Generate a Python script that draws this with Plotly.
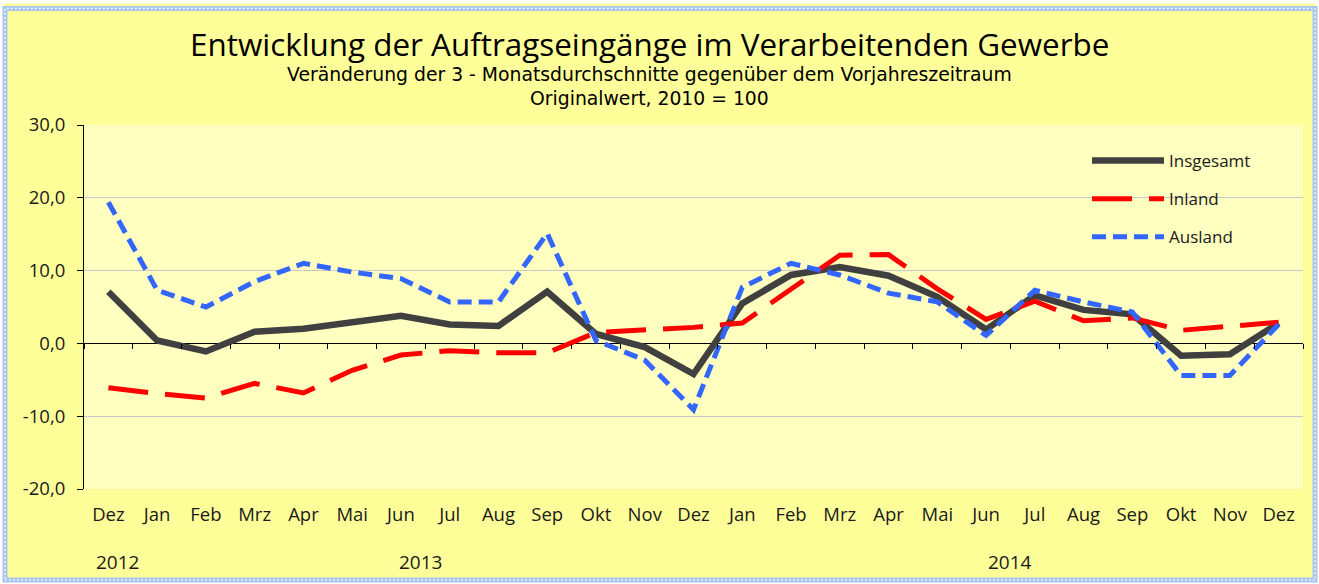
import plotly.graph_objects as go

# ---------------- data ----------------
months = ["Dez", "Jan", "Feb", "Mrz", "Apr", "Mai", "Jun", "Jul", "Aug", "Sep", "Okt", "Nov",
          "Dez", "Jan", "Feb", "Mrz", "Apr", "Mai", "Jun", "Jul", "Aug", "Sep", "Okt", "Nov", "Dez"]
insgesamt = [7.1, 0.4, -1.1, 1.6, 2.0, 2.9, 3.8, 2.6, 2.4, 7.1, 1.3, -0.5,
             -4.2, 5.5, 9.4, 10.5, 9.3, 6.4, 1.9, 6.6, 4.6, 4.0, -1.7, -1.5, 2.8]
inland = [-6.1, -6.9, -7.5, -5.5, -6.8, -3.7, -1.6, -1.0, -1.3, -1.3, 1.5, 1.9,
          2.2, 2.8, 7.4, 12.1, 12.2, 7.5, 3.3, 5.8, 3.1, 3.5, 1.8, 2.3, 2.9]
ausland = [19.4, 7.3, 5.0, 8.5, 11.0, 9.8, 8.9, 5.7, 5.7, 15.1, 0.4, -2.3,
           -9.1, 7.7, 11.0, 9.4, 6.9, 5.7, 1.1, 7.3, 5.7, 4.3, -4.4, -4.4, 2.6]
y_tickvals = [-20, -10, 0, 10, 20, 30]
y_ticktext = ["-20,0", "-10,0", "0,0", "10,0", "20,0", "30,0"]
years = ["2012", "2013", "2014"]
year_pos = [0.18, 6.4, 18.5]

title = "Entwicklung der Auftragseingänge im Verarbeitenden Gewerbe"
sub1 = "Veränderung der 3 - Monatsdurchschnitte gegenüber dem Vorjahreszeitraum"
sub2 = "Originalwert, 2010 = 100"

# ---------------- layout geometry ----------------
W, H = 1319, 584
ML, MR, MT, MB = 84, 16, 125, 95
PW, PH = W - ML - MR, H - MT - MB
FONT = "Open Sans"
SUBFONT = "DejaVu Sans"

def px_x(px):
    return (px - ML) / PW

def px_y(py):
    return (H - MB - py) / PH

x = list(range(len(months)))

fig = go.Figure()
fig.add_trace(go.Scatter(x=x, y=insgesamt, name="Insgesamt", mode="lines",
                         line=dict(color="#404040", width=6.5), legendgroup="a"))
fig.add_trace(go.Scatter(x=x, y=inland, name="Inland", mode="lines",
                         line=dict(color="#FF0000", width=5, dash="40px,17px"), legendgroup="b"))
fig.add_trace(go.Scatter(x=x, y=ausland, name="Ausland", mode="lines",
                         line=dict(color="#3366FF", width=5, dash="14px,7px"), legendgroup="c"))
# invisible trace to activate tick axis on zero line
fig.add_trace(go.Scatter(x=x, y=insgesamt, xaxis="x2", mode="lines", showlegend=False,
                         line=dict(color="rgba(0,0,0,0)"), hoverinfo="skip"))

annotations = [
    dict(text=title, x=px_x(649), y=px_y(44), xref="paper", yref="paper", showarrow=False,
         font=dict(size=31.4, color="#000000", family=FONT), xanchor="center", yanchor="middle"),
    dict(text=sub1 + "<br>" + sub2, x=px_x(649), y=px_y(87), xref="paper", yref="paper",
         showarrow=False, align="center",
         font=dict(size=18.8, color="#000000", family=SUBFONT), xanchor="center", yanchor="middle"),
]
for yr, pos in zip(years, year_pos):
    annotations.append(dict(text=yr, x=pos, y=px_y(562), xref="x", yref="paper", showarrow=False,
                            font=dict(size=19, color="#1a1a1a", family=FONT),
                            xanchor="center", yanchor="middle"))

shapes = [
    # white outer margin
    dict(type="rect", xref="paper", yref="paper", x0=px_x(0), x1=px_x(W), y0=px_y(H), y1=px_y(0),
         line=dict(color="white", width=7), layer="above"),
    # blue dotted frame
    dict(type="rect", xref="paper", yref="paper", x0=px_x(5), x1=px_x(1315), y0=px_y(580), y1=px_y(8.5),
         line=dict(color="#A9C6EE", width=5), layer="above"),
    dict(type="rect", xref="paper", yref="paper", x0=px_x(5), x1=px_x(1315), y0=px_y(580), y1=px_y(8.5),
         line=dict(color="white", width=1.5, dash="1.5px,2.5px"), layer="above"),
]

fig.update_layout(
    width=W, height=H,
    margin=dict(l=ML, r=MR, t=MT, b=MB, pad=0),
    paper_bgcolor="#FFFF99",
    plot_bgcolor="#FFFFC0",
    font=dict(family=FONT, color="#1a1a1a"),
    showlegend=True,
    legend=dict(x=px_x(1087), y=px_y(143), xanchor="left", yanchor="top",
                bgcolor="rgba(0,0,0,0)", font=dict(size=17, family=FONT, color="#1a1a1a"),
                itemwidth=72, tracegroupgap=13, traceorder="grouped"),
    xaxis=dict(range=[-0.5, len(months) - 0.5], tickvals=x, ticktext=months,
               showgrid=False, zeroline=False, showline=False, ticks="",
               tickfont=dict(size=18.5, family=FONT, color="#1a1a1a"), ticklabelstandoff=12),
    xaxis2=dict(range=[-0.5, len(months) - 0.5], overlaying="x", anchor="free",
                position=(0 - y_tickvals[0]) / (y_tickvals[-1] - y_tickvals[0]),
                tickvals=[i - 0.5 for i in range(len(months) + 1)],
                showticklabels=False, ticks="outside", ticklen=5, tickcolor="#000000",
                showgrid=False, zeroline=False, showline=False),
    yaxis=dict(range=[y_tickvals[0], y_tickvals[-1]], tickvals=y_tickvals, ticktext=y_ticktext,
               showgrid=True, gridcolor="#C8C8C8", gridwidth=1.3,
               zeroline=True, zerolinecolor="#000000", zerolinewidth=1,
               showline=True, linecolor="#000000", linewidth=1,
               ticks="outside", ticklen=6, tickcolor="#000000",
               tickfont=dict(size=18.5, family=FONT, color="#1a1a1a"), ticklabelstandoff=8),
    annotations=annotations,
    shapes=shapes,
)

fig.write_html("out.html", config={"displayModeBar": False},
               post_script="document.body.style.margin='0';document.body.style.overflow='hidden';")
